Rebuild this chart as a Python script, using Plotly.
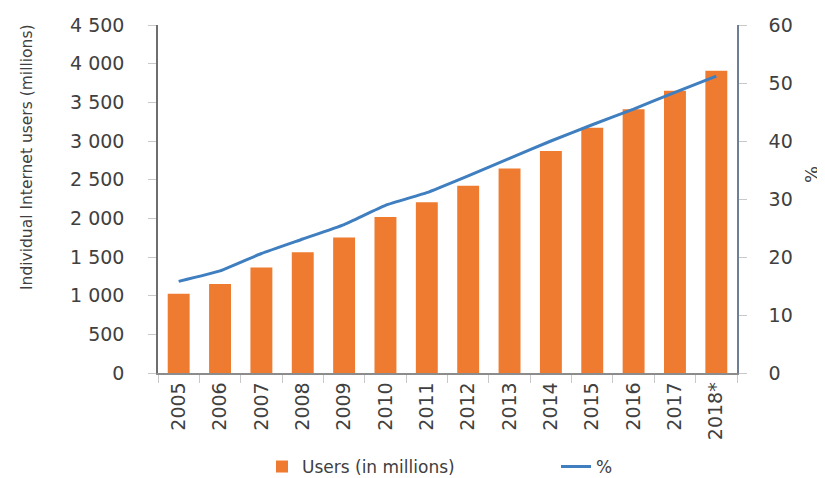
import plotly.graph_objects as go

years = ["2005", "2006", "2007", "2008", "2009", "2010", "2011", "2012",
         "2013", "2014", "2015", "2016", "2017", "2018*"]
users_millions = [1024, 1151, 1365, 1561, 1751, 2018, 2209, 2422,
                  2645, 2872, 3170, 3410, 3650, 3910]
percent_users = [15.8, 17.6, 20.6, 23.1, 25.6, 28.9, 31.1, 34.0,
                 37.0, 40.0, 42.8, 45.5, 48.4, 51.2]

FONT = "DejaVu Sans"
TXT = "#404040"

fig = go.Figure()
fig.add_trace(go.Bar(
    x=years, y=users_millions, name="Users (in millions)",
    marker=dict(color="#EE7B30", line=dict(width=0)),
    width=0.53, yaxis="y", legend="legend"))
fig.add_trace(go.Scatter(
    x=years, y=percent_users, name="%", mode="lines",
    line=dict(color="#3F7FC0", width=3, shape="spline", smoothing=0.4),
    yaxis="y2", legend="legend2"))

leg_common = dict(orientation="h", yanchor="middle", y=-0.27,
                  xanchor="left", font=dict(size=17, color=TXT),
                  bgcolor="rgba(0,0,0,0)", itemwidth=30,
                  tracegroupgap=0)

PW, PH = 579.0, 348.0  # plot area size in px

fig.update_layout(
    width=817, height=470,
    margin=dict(l=150, r=88, t=17, b=105, autoexpand=False),
    paper_bgcolor="white", plot_bgcolor="white",
    separators=". ",
    font=dict(family=FONT, color=TXT, size=17),
    bargap=0.47,
    showlegend=True,
    legend=dict(x=(262 - 158) / PW, **leg_common),
    legend2=dict(x=(556 - 158) / PW, **leg_common),
    xaxis=dict(
        type="category", tickangle=-90, showgrid=False, automargin=False,
        showline=True, linecolor="#8C8C8C", linewidth=1.5,
        ticks="outside", tickson="boundaries", ticklen=8, tickcolor="#C8C8C8",
        tickfont=dict(size=19, color=TXT)),
    yaxis=dict(
        range=[0, 4500], dtick=500, tickformat=",", showgrid=False,
        automargin=False,
        zeroline=False, showline=True, linecolor="#6E6E6E", linewidth=1.5,
        ticks="outside", ticklen=8, tickcolor="#C8C8C8",
        ticklabelstandoff=20,
        tickfont=dict(size=19, color=TXT)),
    yaxis2=dict(
        range=[0, 60], dtick=10, overlaying="y", side="right",
        automargin=False,
        showgrid=False, zeroline=False, showline=True,
        linecolor="#6E7F95", linewidth=1.5,
        ticks="outside", ticklen=8, tickcolor="#C8C8C8",
        ticklabelstandoff=18,
        tickfont=dict(size=19, color=TXT)),
    annotations=[
        dict(text="Individual Internet users (millions)", textangle=-90,
             xref="paper", yref="paper", x=(27 - 158) / PW,
             y=(373 - 157) / PH, xanchor="center", yanchor="middle",
             showarrow=False, font=dict(size=15.5, color=TXT)),
        dict(text="%", textangle=-90,
             xref="paper", yref="paper", x=(811 - 158) / PW,
             y=(373 - 175) / PH, xanchor="center", yanchor="middle",
             showarrow=False, font=dict(size=18, color=TXT)),
    ],
)

fig.write_html("out.html")
